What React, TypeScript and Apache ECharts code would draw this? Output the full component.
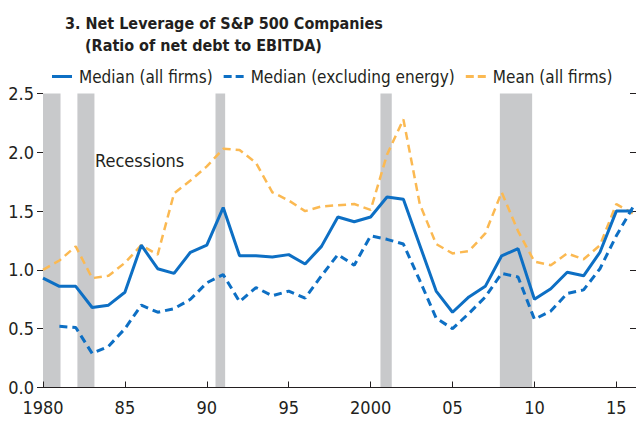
import React, { useEffect, useRef } from "react";
import * as echarts from "echarts";

const years: number[] = [
  1980, 1981, 1982, 1983, 1984, 1985, 1986, 1987, 1988, 1989,
  1990, 1991, 1992, 1993, 1994, 1995, 1996, 1997, 1998, 1999,
  2000, 2001, 2002, 2003, 2004, 2005, 2006, 2007, 2008, 2009,
  2010, 2011, 2012, 2013, 2014, 2015, 2016,
];

const medianAll: (number | null)[] = [
  0.93, 0.86, 0.86, 0.68, 0.70, 0.81, 1.21, 1.01, 0.97, 1.15,
  1.21, 1.53, 1.12, 1.12, 1.11, 1.13, 1.05, 1.20, 1.45, 1.41,
  1.45, 1.62, 1.60, 1.21, 0.82, 0.64, 0.77, 0.86, 1.12, 1.18,
  0.75, 0.84, 0.98, 0.95, 1.15, 1.50, 1.50,
];

const medianExEnergy: (number | null)[] = [
  null, 0.52, 0.51, 0.29, 0.35, 0.50, 0.70, 0.64, 0.67, 0.75,
  0.89, 0.96, 0.73, 0.85, 0.78, 0.82, 0.76, 0.95, 1.13, 1.04,
  1.29, 1.26, 1.22, 0.91, 0.59, 0.50, 0.63, 0.77, 0.97, 0.94,
  0.58, 0.65, 0.80, 0.83, 1.01, 1.29, 1.53,
];

const meanAll: (number | null)[] = [
  1.00, 1.08, 1.20, 0.93, 0.95, 1.06, 1.21, 1.13, 1.65, 1.76,
  1.88, 2.03, 2.02, 1.91, 1.66, 1.59, 1.50, 1.54, 1.55, 1.56,
  1.51, 1.98, 2.28, 1.56, 1.22, 1.14, 1.16, 1.31, 1.66, 1.33,
  1.07, 1.04, 1.14, 1.09, 1.21, 1.56, 1.48,
];

const recessions: [number, number][] = [
  [1980.0, 1981.07],
  [1982.1, 1983.14],
  [1990.53, 1991.12],
  [2000.6, 2001.29],
  [2007.89, 2009.86],
];

const xTickLabels: Record<number, string> = {
  1980: "1980",
  1985: "85",
  1990: "90",
  1995: "95",
  2000: "2000",
  2005: "05",
  2010: "10",
  2015: "15",
};

const seriesNames = [
  "Median (all firms)",
  "Median (excluding energy)",
  "Mean (all firms)",
];

const titleLine1 = "3. Net Leverage of S&P 500 Companies";
const titleLine2 = "(Ratio of net debt to EBITDA)";
const recessionLabel = "Recessions";

const FONT = "'DejaVu Sans Condensed', 'Liberation Sans', sans-serif";
const TEXT = "#231f20";
const BLUE = "#0d6fc4";
const ORANGE = "#fbb952";
const GRAY = "#c8c9cb";

const ICON_SOLID = "path://M0,0H20V3H0Z";
const ICON_DASH = "path://M0,0H8V3H0Z M12,0H20V3H12Z";

export default function App() {
  const ref = useRef<HTMLDivElement>(null);

  useEffect(() => {
    document.body.style.margin = "0";
    if (!ref.current) return;
    const chart = echarts.init(ref.current, null, { renderer: "svg" });

    const pair = (arr: (number | null)[]) => years.map((y, i) => [y, arr[i]]);

    chart.setOption({
      animation: false,
      backgroundColor: "#ffffff",
      textStyle: { fontFamily: FONT },
      title: [
        {
          text: titleLine1,
          left: 60,
          top: 10,
          textStyle: { fontFamily: FONT, fontSize: 16, fontWeight: "bold", color: TEXT },
        },
        {
          text: titleLine2,
          left: 80,
          top: 32,
          textStyle: { fontFamily: FONT, fontSize: 16, fontWeight: "bold", color: TEXT },
        },
      ],
      legend: {
        left: 52,
        top: 68,
        width: 600,
        padding: 0,
        itemWidth: 20,
        itemHeight: 3,
        itemGap: 11,
        symbolKeepAspect: false,
        data: [
          { name: seriesNames[0], icon: ICON_SOLID },
          { name: seriesNames[1], icon: ICON_DASH },
          { name: seriesNames[2], icon: ICON_DASH },
        ],
        itemStyle: { borderWidth: 0 },
        textStyle: { fontFamily: FONT, fontSize: 17, color: TEXT, padding: [0, 0, 0, 2] },
      },
      graphic: [
        {
          type: "text",
          left: 95,
          top: 151,
          style: { text: recessionLabel, fontFamily: FONT, fontSize: 18, fill: TEXT },
        },
      ],
      grid: { left: 43, right: 0, top: 93.5, bottom: 34.5, containLabel: false },
      xAxis: {
        type: "value",
        min: 1980,
        max: 2016.2,
        interval: 5,
        axisLine: { show: true, lineStyle: { color: TEXT, width: 1 } },
        axisTick: { show: true, inside: true, length: 6, lineStyle: { color: TEXT } },
        splitLine: { show: false },
        axisLabel: {
          fontFamily: FONT,
          fontSize: 18,
          color: TEXT,
          margin: 11,
          showMaxLabel: false,
          formatter: (v: number) => xTickLabels[Math.round(v)] ?? "",
        },
      },
      yAxis: [
        {
          type: "value",
          min: 0,
          max: 2.5,
          interval: 0.5,
          axisLine: { show: false },
          axisTick: { show: true, inside: false, length: 6, lineStyle: { color: TEXT } },
          splitLine: { show: false },
          axisLabel: {
            fontFamily: FONT,
            fontSize: 18,
            color: TEXT,
            margin: 9,
            formatter: (v: number) => v.toFixed(1),
          },
        },
        {
          type: "value",
          position: "right",
          min: 0,
          max: 2.5,
          interval: 0.5,
          axisLine: { show: false },
          axisTick: { show: true, inside: true, length: 6, lineStyle: { color: TEXT } },
          splitLine: { show: false },
          axisLabel: { show: false },
        },
      ],
      series: [
        {
          type: "custom",
          name: "recessions",
          z: 0,
          silent: true,
          data: recessions,
          encode: { x: [0, 1] },
          renderItem: (params: any, api: any) => {
            const s = api.coord([api.value(0), 2.5]);
            const e = api.coord([api.value(1), 0]);
            return {
              type: "rect",
              shape: { x: s[0], y: s[1], width: e[0] - s[0], height: e[1] - s[1] },
              style: { fill: GRAY },
            };
          },
        },
        {
          type: "line",
          name: seriesNames[0],
          data: pair(medianAll),
          z: 4,
          symbol: "none",
          showSymbol: false,
          lineStyle: { color: BLUE, width: 3 },
          itemStyle: { color: BLUE },
        },
        {
          type: "line",
          name: seriesNames[1],
          data: pair(medianExEnergy),
          z: 3,
          symbol: "none",
          showSymbol: false,
          connectNulls: false,
          lineStyle: { color: BLUE, width: 3, type: [8, 5] },
          itemStyle: { color: BLUE },
        },
        {
          type: "line",
          name: seriesNames[2],
          data: pair(meanAll),
          z: 2,
          symbol: "none",
          showSymbol: false,
          lineStyle: { color: ORANGE, width: 2.5, type: [8, 5] },
          itemStyle: { color: ORANGE },
        },
      ],
    });

    return () => chart.dispose();
  }, []);

  return (
    <div
      ref={ref}
      style={{ width: 636, height: 422, position: "absolute", left: 0, top: 0 }}
    />
  );
}
